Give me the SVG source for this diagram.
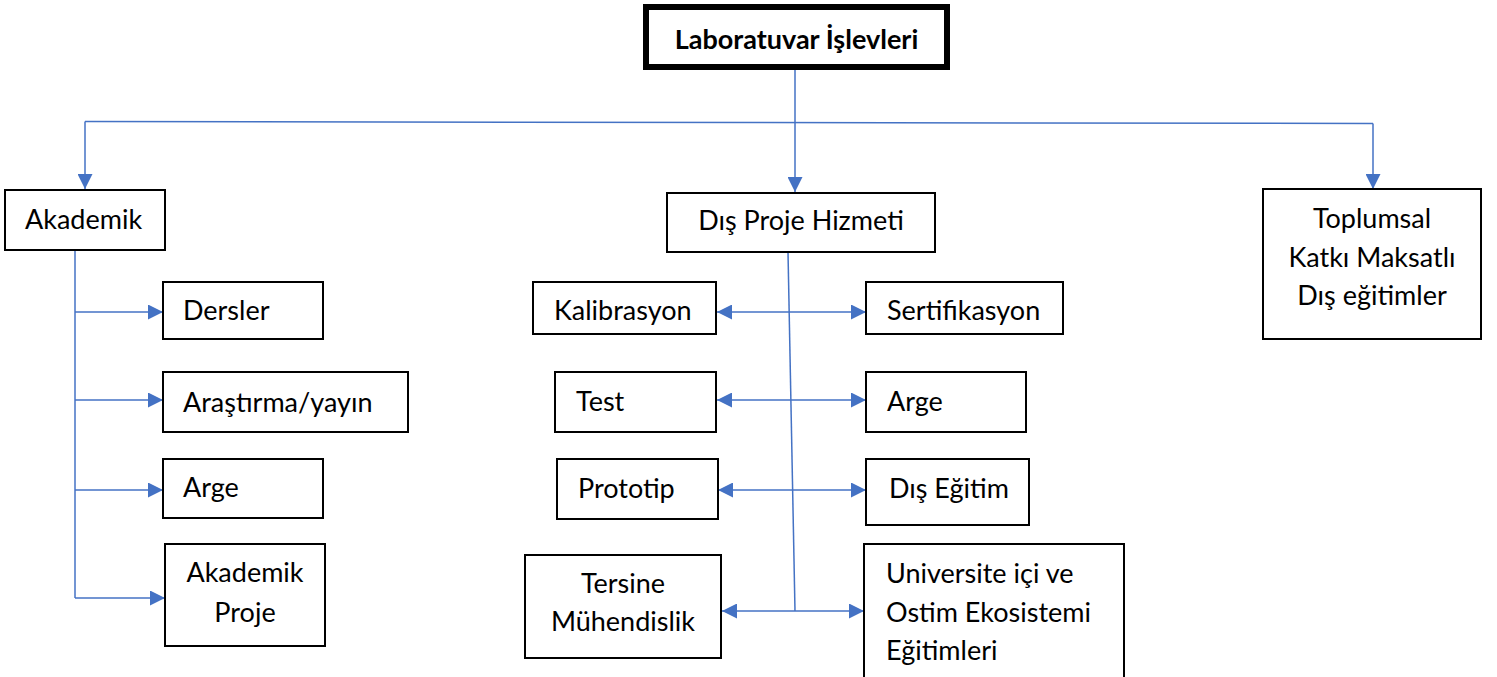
<svg xmlns="http://www.w3.org/2000/svg" width="1497" height="677" viewBox="0 0 1497 677">
<style>
.box{fill:#fff;stroke:#000;stroke-width:2}
.t{font-family:"Lato","Liberation Sans",sans-serif;font-size:27px;fill:#000}
.c{text-anchor:middle}
.ln{fill:none;stroke:#4472C4;stroke-width:1.5}
</style>
<defs>
<marker id="ar" viewBox="0 0 15 15" refX="15" refY="7.5" markerWidth="15" markerHeight="15" markerUnits="userSpaceOnUse" orient="auto-start-reverse">
<path d="M0,0 L15,7.5 L0,15 z" fill="#4472C4"/>
</marker>
</defs>
<rect width="1497" height="677" fill="#fff"/>
<g id="connectors">
<path class="ln" d="M795,70 V192" marker-end="url(#ar)"/>
<path class="ln" d="M85,121.5 L1373,123.5"/>
<path class="ln" d="M85,121.5 V189" marker-end="url(#ar)"/>
<path class="ln" d="M1373,123.5 V189" marker-end="url(#ar)"/>
<path class="ln" d="M75,250 V598"/>
<path class="ln" d="M75,312 H163" marker-end="url(#ar)"/>
<path class="ln" d="M75,400 H163" marker-end="url(#ar)"/>
<path class="ln" d="M75,490 H163" marker-end="url(#ar)"/>
<path class="ln" d="M75,598 H165" marker-end="url(#ar)"/>
<path class="ln" d="M788,252 L795,611"/>
<path class="ln" d="M717,312 H866" marker-start="url(#ar)" marker-end="url(#ar)"/>
<path class="ln" d="M717,400 H866" marker-start="url(#ar)" marker-end="url(#ar)"/>
<path class="ln" d="M718,490 H866" marker-start="url(#ar)" marker-end="url(#ar)"/>
<path class="ln" d="M722,611 H864" marker-start="url(#ar)" marker-end="url(#ar)"/>
</g>
<g id="n-root">
<rect x="646" y="7" width="301" height="60" fill="#fff" stroke="#000" stroke-width="6"/>
<text class="t c" x="796.5" y="49" font-weight="bold" font-size="25">Laboratuvar İşlevleri</text>
</g>
<g id="n-akademik">
<rect class="box" x="5" y="190" width="160" height="60"/>
<text class="t" x="25" y="229">Akademik</text>
</g>
<g id="n-dersler">
<rect class="box" x="163" y="282" width="160" height="57"/>
<text class="t" x="183" y="320">Dersler</text>
</g>
<g id="n-arastirma">
<rect class="box" x="163" y="372" width="245" height="60"/>
<text class="t" x="183" y="412">Araştırma/yayın</text>
</g>
<g id="n-arge1">
<rect class="box" x="163" y="459" width="160" height="59"/>
<text class="t" x="183" y="497">Arge</text>
</g>
<g id="n-akproje">
<rect class="box" x="165" y="544" width="160" height="102"/>
<text class="t c" x="245" y="582">Akademik</text>
<text class="t c" x="245" y="622">Proje</text>
</g>
<g id="n-dis">
<rect class="box" x="667" y="193" width="268" height="59"/>
<text class="t c" x="801" y="230">Dış Proje Hizmeti</text>
</g>
<g id="n-kalibrasyon">
<rect class="box" x="533" y="282" width="183" height="52"/>
<text class="t" x="554" y="320">Kalibrasyon</text>
</g>
<g id="n-sertifikasyon">
<rect class="box" x="866" y="282" width="197" height="52"/>
<text class="t" x="887" y="320">Sertifikasyon</text>
</g>
<g id="n-test">
<rect class="box" x="555" y="372" width="161" height="60"/>
<text class="t" x="576" y="411">Test</text>
</g>
<g id="n-arge2">
<rect class="box" x="866" y="372" width="160" height="60"/>
<text class="t" x="887" y="411">Arge</text>
</g>
<g id="n-prototip">
<rect class="box" x="557" y="459" width="161" height="60"/>
<text class="t" x="578" y="498">Prototip</text>
</g>
<g id="n-diségitim">
<rect class="box" x="866" y="459" width="163" height="66"/>
<text class="t" x="889" y="498">Dış Eğitim</text>
</g>
<g id="n-tersine">
<rect class="box" x="525" y="555" width="196" height="103"/>
<text class="t c" x="623" y="593">Tersine</text>
<text class="t c" x="623" y="631">Mühendislik</text>
</g>
<g id="n-universite">
<rect class="box" x="864" y="544" width="260" height="140"/>
<text class="t" x="886" y="583">Universite içi ve</text>
<text class="t" x="886" y="622">Ostim Ekosistemi</text>
<text class="t" x="886" y="660">Eğitimleri</text>
</g>
<g id="n-toplumsal">
<rect class="box" x="1263" y="189" width="218" height="150"/>
<text class="t c" x="1372" y="228">Toplumsal</text>
<text class="t c" x="1372" y="267">Katkı Maksatlı</text>
<text class="t c" x="1372" y="305">Dış eğitimler</text>
</g>
</svg>
